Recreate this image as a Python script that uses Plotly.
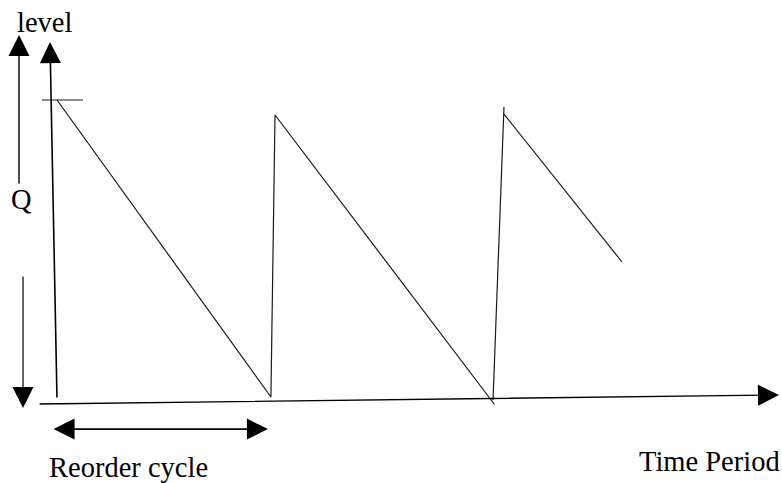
import plotly.graph_objects as go

# ---- data (time in reorder cycles, level in % of Q) ----
saw_t = [0.0, 0.995, 1.014, 2.035, None, 2.028, 2.079, None, 2.079, 2.628]
saw_level = [100, 1, 95, -1.5, None, 0, 97.7, None, 95.3, 46]

q_tick_t = [-0.070, 0.121]
q_tick_level = [100, 100]

# arrows: [tail_t, tail_level, head_t, head_level]
y_axis_arrow = [0.0, 0.33, -0.0326, 119.3]
x_axis_arrow = [-0.088, -1.33, 3.358, 1.67]
q_up_arrow = [-0.1767, 71.7, -0.1767, 121.7]
q_down_arrow = [-0.158, 41.7, -0.158, -2.7]
cycle_arrow = [-0.023, -9.7, 0.981, -9.7]

# labels: text, t, level
label_text = ["level", "Q", "Reorder cycle", "Time Period"]
label_t = [-0.056, -0.163, -0.045, 3.372]
label_level = [125.8, 67.0, -22.5, -20.5]
label_anchor = ["center", "center", "left", "right"]

INK = "#1a1a1a"
FONT = dict(family="Liberation Serif", size=28.5, color="black")
HEAD = 21

fig = go.Figure()
fig.add_trace(go.Scatter(x=saw_t, y=saw_level, mode="lines",
                         line=dict(color=INK, width=1.2), connectgaps=False,
                         hoverinfo="skip", showlegend=False))
fig.add_trace(go.Scatter(x=q_tick_t, y=q_tick_level, mode="lines",
                         line=dict(color=INK, width=1.2),
                         hoverinfo="skip", showlegend=False))

def arrow(a, both=False, width=1.4):
    fig.add_annotation(x=a[2], y=a[3], ax=a[0], ay=a[1],
                       xref="x", yref="y", axref="x", ayref="y",
                       text="", showarrow=True, arrowhead=2, startarrowhead=2,
                       arrowside="end+start" if both else "end",
                       arrowsize=HEAD / (5 * width), startarrowsize=HEAD / (5 * width),
                       arrowwidth=width,
                       arrowcolor="black", standoff=0, startstandoff=0)

arrow(y_axis_arrow, width=1.6)
arrow(x_axis_arrow, width=1.4)
arrow(q_up_arrow, width=1.4)
arrow(q_down_arrow, width=1.2)
arrow(cycle_arrow, both=True, width=1.6)

for txt, t, lv, anc in zip(label_text, label_t, label_level, label_anchor):
    fig.add_annotation(x=t, y=lv, xref="x", yref="y", text=txt, showarrow=False,
                       xanchor=anc, yanchor="middle", font=FONT)

fig.update_layout(
    width=782, height=483,
    margin=dict(l=0, r=0, t=0, b=0),
    paper_bgcolor="white", plot_bgcolor="white",
    xaxis=dict(range=[-57 / 215, 725 / 215], visible=False, fixedrange=True),
    yaxis=dict(range=[-83 / 3, 400 / 3], visible=False, fixedrange=True),
    showlegend=False,
)

fig.write_html(
    "out.html",
    config={"displayModeBar": False},
    post_script="document.body.style.margin='0';document.body.style.overflow='hidden';",
)
